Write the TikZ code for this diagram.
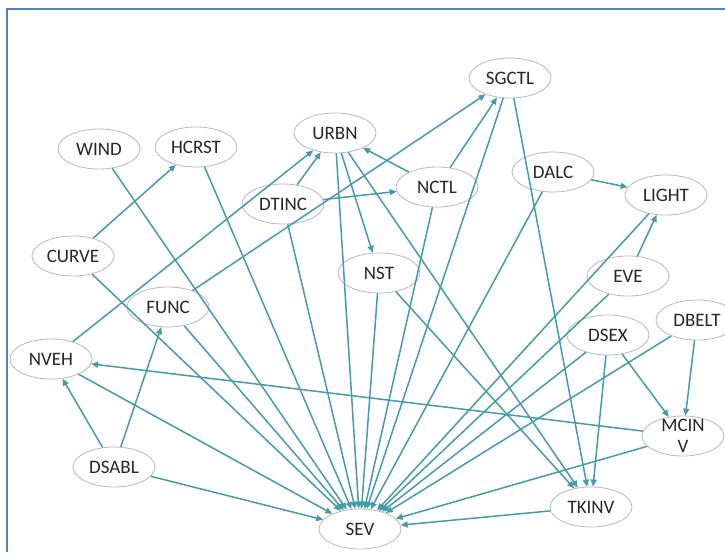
\documentclass[tikz,border=0pt]{standalone}
\usepackage{fontspec}
\setmainfont{Carlito}
\usetikzlibrary{shapes.geometric,arrows.meta}
\definecolor{framec}{RGB}{79,129,189}
\definecolor{linkc}{RGB}{68,155,172}
\definecolor{rimc}{RGB}{185,185,185}
\tikzset{
  vnode/.style={ellipse,draw=rimc,fill=white,line width=0.8pt,minimum width=82pt,
    minimum height=40pt,inner sep=0pt,text=black!85,font=\fontsize{19}{21}\selectfont},
  link/.style={draw=linkc,line width=1.5pt,-{Triangle[length=7pt,width=6pt]}}
}
\begin{document}
\begin{tikzpicture}[x=1pt,y=-1pt]
  \useasboundingbox (0,0) rectangle (725,552);
  \draw[framec,line width=1.8pt] (7,552) -- (7,9) -- (725,9);
  % variables
  \foreach \n/\x/\y/\t in {sgctl/510/78/SGCTL, wind/99/149/WIND, hcrst/196/147/HCRST,
      urbn/335/133/URBN, dalc/553/172/DALC, nctl/437/187/NCTL, light/666/195/LIGHT,
      dtinc/283/204/DTINC, curve/73/256/CURVE, nst/379/273/NST, eve/628/276/EVE,
      func/168/307/FUNC, dbelt/697/320/DBELT, dsex/608/335/DSEX, nveh/51/359/NVEH,
      dsabl/114/467/DSABL, tkinv/591/507/TKINV, sev/360/529/SEV} {
    \node[vnode] (\n) at (\x,\y) {\t};
  }
  \node[vnode] (mcinv) at (683,436)
    {\raisebox{-6.5pt}[0pt][0pt]{\begin{tabular}{@{}c@{}}MCIN\\V\end{tabular}}};
  % links between causes
  \foreach \a/\b in {curve/hcrst, nveh/urbn, func/sgctl, dtinc/urbn, dtinc/nctl,
      urbn/nst, urbn/tkinv, nctl/urbn, nctl/sgctl, sgctl/tkinv, dalc/light, eve/light,
      dsex/mcinv, dsex/tkinv, dbelt/mcinv, mcinv/nveh, dsabl/nveh, dsabl/func, nst/tkinv} {
    \draw[link] (\a) -- (\b);
  }
  % links into severity
  \foreach \a in {wind, hcrst, curve, func, nveh, dsabl, dtinc, urbn, nst, nctl, sgctl,
      dalc, light, eve, dsex, dbelt, mcinv, tkinv} {
    \draw[link] (\a) -- (sev);
  }
\end{tikzpicture}
\end{document}
